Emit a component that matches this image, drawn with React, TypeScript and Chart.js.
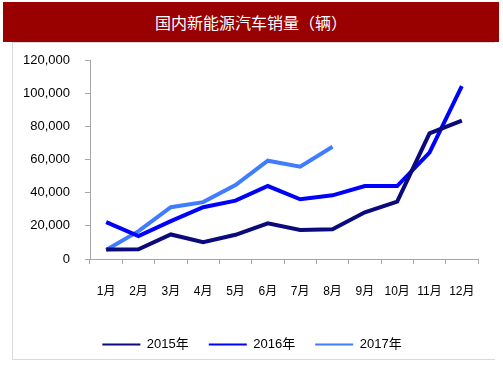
import React, { useEffect, useRef } from "react";
import { Chart, registerables } from "chart.js";

Chart.register(...registerables);

const title = "国内新能源汽车销量（辆）";
const months = ["1月", "2月", "3月", "4月", "5月", "6月", "7月", "8月", "9月", "10月", "11月", "12月"];
const seriesNames = ["2015年", "2016年", "2017年"];
const sales2015 = [5800, 5900, 14800, 10200, 14600, 21500, 17500, 17900, 28200, 34600, 75800, 83400];
const sales2016 = [22200, 13800, 22800, 31200, 35200, 44000, 36000, 38400, 44000, 44000, 64100, 104300];
const sales2017 = [5400, 16800, 31200, 34300, 44600, 59300, 55700, 67700, null, null, null, null];
const seriesColors = ["#0a0a7d", "#0000ff", "#3f7cff"];
const yTicks = [0, 20000, 40000, 60000, 80000, 100000, 120000];

const FONT = "'Liberation Sans', Arial, 'Noto Sans CJK SC', sans-serif";

const legendShift = {
  id: "legendShift",
  afterLayout(chart: any) {
    const lg = chart.legend;
    if (lg) {
      lg.left += 13;
      lg.right += 13;
      lg.top += 1.5;
      lg.bottom += 1.5;
    }
  },
};

export default function App() {
  const ref = useRef<HTMLCanvasElement | null>(null);

  useEffect(() => {
    if (!ref.current) return;
    const data = [sales2015, sales2016, sales2017];
    const chart = new Chart(ref.current, {
      type: "line",
      plugins: [legendShift],
      data: {
        labels: months,
        datasets: seriesNames.map((name, i) => ({
          label: name,
          data: data[i],
          borderColor: seriesColors[i],
          backgroundColor: seriesColors[i],
          borderWidth: 4,
          pointRadius: 0,
          tension: 0,
          spanGaps: false,
        })),
      },
      options: {
        animation: false,
        responsive: false,
        maintainAspectRatio: false,
        layout: { padding: { left: 0, right: 25, top: 60, bottom: 18.5 } },
        plugins: {
          title: { display: false },
          tooltip: { enabled: false },
          legend: {
            position: "bottom",
            labels: {
              boxWidth: 38,
              boxHeight: 2,
              padding: 20,
              color: "#000",
              font: { family: FONT, size: 13 },
              generateLabels: (c: any) =>
                c.data.datasets.map((ds: any, i: number) => ({
                  text: ds.label,
                  fillStyle: ds.borderColor,
                  strokeStyle: ds.borderColor,
                  lineWidth: 0,
                  hidden: false,
                  datasetIndex: i,
                })),
            },
          },
        },
        scales: {
          x: {
            type: "category",
            offset: true,
            grid: {
              offset: true,
              drawOnChartArea: false,
              drawTicks: true,
              tickLength: 5,
              color: "#a6a6a6",
            },
            border: { color: "#a6a6a6", width: 1 },
            ticks: {
              color: "#000",
              padding: 20,
              maxRotation: 0,
              autoSkip: false,
              font: { family: FONT, size: 12 },
            },
            afterFit: (s: any) => {
              s.height = 57.5;
            },
          },
          y: {
            min: 0,
            max: 120000,
            afterBuildTicks: (s: any) => {
              s.ticks = yTicks.map((v) => ({ value: v }));
            },
            grid: {
              drawOnChartArea: false,
              drawTicks: true,
              tickLength: 5,
              color: "#a6a6a6",
            },
            border: { color: "#a6a6a6", width: 1 },
            ticks: {
              color: "#000",
              padding: 15,
              font: { family: FONT, size: 13 },
              callback: (v: any) => Number(v).toLocaleString("en-US"),
            },
            afterFit: (s: any) => {
              s.width = 90;
            },
          },
        },
      },
    });
    return () => chart.destroy();
  }, []);

  return (
    <div style={{ position: "absolute", left: 0, top: 0, width: 503, height: 378, background: "#fff", overflow: "hidden" }}>
      <div
        style={{
          position: "absolute",
          left: 12,
          top: 42,
          width: 483,
          height: 318,
          borderLeft: "1px solid #d9d9d9",
          borderTop: "1px solid #d9d9d9",
          borderBottom: "1px solid #d9d9d9",
          boxSizing: "border-box",
        }}
      />
      <div
        style={{
          position: "absolute",
          left: 3,
          top: 2,
          width: 496,
          height: 40,
          background: "#990000",
          color: "#fff",
          fontFamily: "'Noto Sans CJK SC', sans-serif",
          fontSize: 16,
          lineHeight: "40px",
          textAlign: "center",
        }}
      >
        {title}
      </div>
      <canvas ref={ref} width={503} height={378} style={{ position: "absolute", left: 0, top: 0, width: 503, height: 378 }} />
    </div>
  );
}
